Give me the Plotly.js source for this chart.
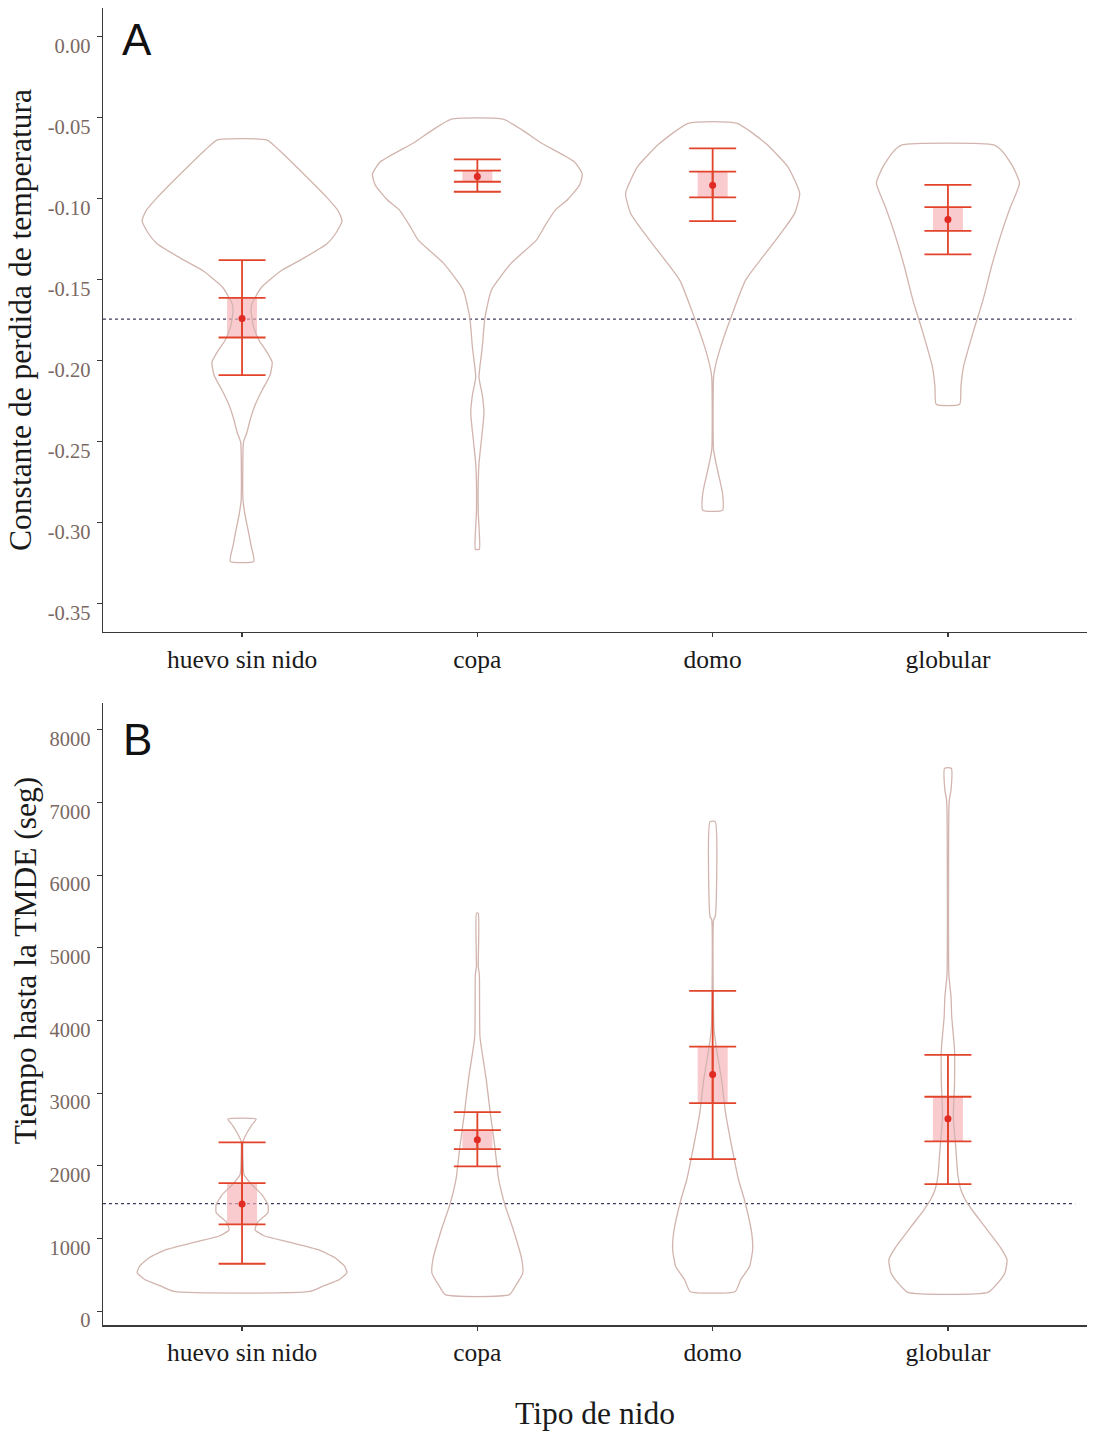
<!DOCTYPE html>
<html>
<head>
<meta charset="utf-8">
<script src="https://cdn.plot.ly/plotly-3.0.1.min.js"></script>
<style>
html,body{margin:0;padding:0;background:#fff;}
#chart{width:1095px;height:1431px;}
</style>
</head>
<body>
<div id="chart"></div>
<script>
// ---------- categories ----------
const categories = ['huevo sin nido', 'copa', 'domo', 'globular'];

// ---------- Panel A: Constante de perdida de temperatura ----------
const meanA    = [-0.1740, -0.0863, -0.0917, -0.1129];
const outerHiA = [-0.1380, -0.0758, -0.0690, -0.0915];
const innerHiA = [-0.1613, -0.0828, -0.0834, -0.1053];
const innerLoA = [-0.1858, -0.0896, -0.0993, -0.1199];
const outerLoA = [-0.2090, -0.0958, -0.1139, -0.1345];
const refA = -0.1745;
const yTicksA = [0, -0.05, -0.10, -0.15, -0.20, -0.25, -0.30, -0.35];
const yTickTextA = ['0.00', '-0.05', '-0.10', '-0.15', '-0.20', '-0.25', '-0.30', '-0.35'];

// violin density profiles (value, half-width in category units)
const vA0_y = [-0.0639,-0.0700,-0.0808,-0.0994,-0.1075,-0.1137,-0.1211,-0.1279,-0.1366,-0.1446,-0.1551,-0.1650,-0.1689,-0.1782,-0.1875,-0.1949,-0.2011,-0.2091,-0.2184,-0.2277,-0.2369,-0.2443,-0.2505,-0.2678,-0.2864,-0.2957,-0.3050,-0.3142,-0.3241];
const vA0_w = [0.106,0.157,0.234,0.361,0.408,0.425,0.400,0.361,0.264,0.166,0.081,0.042,0.038,0.047,0.072,0.106,0.128,0.119,0.085,0.055,0.034,0.021,0.006,0.003,0.004,0.013,0.026,0.038,0.050];

const vA1_y = [-0.0510,-0.0577,-0.0657,-0.0773,-0.0849,-0.0917,-0.1009,-0.1071,-0.1164,-0.1257,-0.1399,-0.1565,-0.1738,-0.1918,-0.2103,-0.2214,-0.2326,-0.2493,-0.2635,-0.2740,-0.2944,-0.3067,-0.3166];
const vA1_w = [0.110,0.191,0.272,0.412,0.446,0.434,0.382,0.331,0.289,0.251,0.144,0.060,0.032,0.021,0.007,0.021,0.028,0.017,0.007,0.004,0.004,0.0085,0.0085];

const vA2_y = [-0.0535,-0.0659,-0.0803,-0.0968,-0.1090,-0.1195,-0.1298,-0.1504,-0.1738,-0.1916,-0.2039,-0.2101,-0.2554,-0.2678,-0.2820,-0.2925];
const vA2_w = [0.104,0.225,0.319,0.370,0.349,0.300,0.246,0.140,0.077,0.034,0.011,0.004,0.004,0.021,0.042,0.042];

const vA3_y = [-0.0669,-0.0713,-0.0803,-0.0906,-0.1051,-0.1215,-0.1421,-0.1627,-0.1831,-0.2039,-0.2163,-0.2270];
const vA3_w = [0.195,0.234,0.276,0.304,0.266,0.227,0.185,0.149,0.106,0.066,0.055,0.050];

// ---------- Panel B: Tiempo hasta la TMDE (seg) ----------
const meanB    = [1475, 2359, 3257, 2648];
const outerHiB = [2322, 2740, 4409, 3528];
const innerHiB = [1763, 2492, 3642, 2951];
const innerLoB = [1194, 2231, 2864, 2336];
const outerLoB = [653, 1992, 2094, 1750];
const refB = 1479;
const yTicksB = [0, 1000, 2000, 3000, 4000, 5000, 6000, 7000, 8000];

const vB0_y = [2644,2565,2455,2336,2084,1878,1740,1602,1465,1355,1231,1121,1038,956,846,736,626,530,433,351,272];
const vB0_w = [0.060,0.042,0.021,0.004,0.004,0.0085,0.042,0.085,0.110,0.110,0.068,0.055,0.094,0.191,0.323,0.395,0.434,0.446,0.412,0.348,0.289];

const vB1_y = [5477,4743,4629,3780,3459,3184,2726,2267,1809,1465,1121,708,525,341,227];
const vB1_w = [0.004,0.004,0.0085,0.011,0.025,0.038,0.055,0.074,0.091,0.117,0.153,0.189,0.193,0.161,0.136];

const vB2_y = [6737,5431,5385,3872,3597,3184,2726,2267,1809,1534,1076,846,616,433,272];
const vB2_w = [0.011,0.011,0.004,0.006,0.017,0.038,0.055,0.081,0.110,0.135,0.166,0.170,0.157,0.119,0.096];

const vB3_y = [7472,7173,7036,6898,4629,4330,4055,3597,3139,2679,2221,1878,1671,1534,1396,1166,891,708,525,388,259];
const vB3_w = [0.014,0.013,0.006,0.004,0.004,0.013,0.016,0.028,0.028,0.023,0.034,0.042,0.055,0.074,0.102,0.156,0.220,0.251,0.242,0.212,0.170];

// ---------- styles ----------
const VIOLIN_COLOR = '#d2b4ae';
const ERR_COLOR = '#e2442b';
const MEAN_COLOR = '#e02a24';
const BOX_COLOR = 'rgba(246,175,180,0.65)';
const SERIF = 'Liberation Serif, Times New Roman, serif';
const idx = categories.map((c, i) => i);

function violinTrace(center, ys, ws, xa, ya) {
  const xs = [], yy = [];
  for (let i = 0; i < ys.length; i++) { xs.push(center + ws[i]); yy.push(ys[i]); }
  for (let i = ys.length - 1; i >= 0; i--) { xs.push(center - ws[i]); yy.push(ys[i]); }
  xs.push(xs[0]); yy.push(yy[0]);
  return {type: 'scatter', mode: 'lines', x: xs, y: yy, xaxis: xa, yaxis: ya,
    line: {color: VIOLIN_COLOR, width: 1.3, shape: 'spline', smoothing: 0.5},
    hoverinfo: 'skip', showlegend: false};
}

function boxTrace(lo, hi, xa, ya) {
  return {type: 'bar', x: idx, base: lo, y: hi.map((h, i) => h - lo[i]), width: 0.1275,
    xaxis: xa, yaxis: ya, marker: {color: BOX_COLOR, line: {width: 0}}, showlegend: false, hoverinfo: 'skip'};
}

function errTrace(mean, hi, lo, xa, ya, showMarker) {
  return {type: 'scatter', mode: 'markers', x: idx, y: mean, xaxis: xa, yaxis: ya,
    marker: {color: MEAN_COLOR, size: showMarker ? 7 : 0.1, opacity: showMarker ? 1 : 0},
    error_y: {type: 'data', symmetric: false, array: hi.map((h, i) => h - mean[i]),
      arrayminus: mean.map((m, i) => m - lo[i]), color: ERR_COLOR, thickness: 1.8, width: 23.5},
    showlegend: false, hoverinfo: 'skip'};
}

const data = [
  boxTrace(innerLoA, innerHiA, 'x', 'y'),
  boxTrace(innerLoB, innerHiB, 'x2', 'y2'),
  violinTrace(0, vA0_y, vA0_w, 'x', 'y'),
  violinTrace(1, vA1_y, vA1_w, 'x', 'y'),
  violinTrace(2, vA2_y, vA2_w, 'x', 'y'),
  violinTrace(3, vA3_y, vA3_w, 'x', 'y'),
  violinTrace(0, vB0_y, vB0_w, 'x2', 'y2'),
  violinTrace(1, vB1_y, vB1_w, 'x2', 'y2'),
  violinTrace(2, vB2_y, vB2_w, 'x2', 'y2'),
  violinTrace(3, vB3_y, vB3_w, 'x2', 'y2'),
  errTrace(meanA, outerHiA, outerLoA, 'x', 'y', false),
  errTrace(meanA, innerHiA, innerLoA, 'x', 'y', true),
  errTrace(meanB, outerHiB, outerLoB, 'x2', 'y2', false),
  errTrace(meanB, innerHiB, innerLoB, 'x2', 'y2', true)
];

const axisLine = {showline: true, linecolor: '#3a3a3a', linewidth: 1.5, showgrid: false, zeroline: false,
  ticks: 'outside', tickcolor: '#3a3a3a', tickwidth: 1.2};

const xCommon = Object.assign({}, axisLine, {
  range: [-0.591, 3.591], tickmode: 'array', tickvals: idx, ticktext: categories, ticklen: 4,
  tickfont: {family: SERIF, size: 25.5, color: '#1a1a1a'}, ticklabelstandoff: 0, fixedrange: true
});

const yTickFont = {family: SERIF, size: 20.5, color: '#7a6862'};
const titleFont = {family: SERIF, size: 31.5, color: '#1a1a1a'};

const layout = {
  width: 1095, height: 1431,
  margin: {l: 103, r: 8, t: 8, b: 106},
  paper_bgcolor: '#ffffff', plot_bgcolor: '#ffffff',
  showlegend: false,
  barmode: 'overlay',
  xaxis: Object.assign({}, xCommon, {anchor: 'y'}),
  xaxis2: Object.assign({}, xCommon, {anchor: 'y2',
    title: {text: 'Tipo de nido', font: titleFont, standoff: 36}}),
  yaxis: Object.assign({}, axisLine, {
    domain: [0.5262, 1], range: [-0.3677, 0.0177], tickmode: 'array', tickvals: yTicksA, ticktext: yTickTextA,
    ticklen: 5, tickfont: yTickFont, ticklabelshift: 9, ticklabelstandoff: 2, anchor: 'x',
    title: {text: 'Constante de perdida de temperatura', font: titleFont, standoff: 6}
  }),
  yaxis2: Object.assign({}, axisLine, {
    domain: [0, 0.4723], range: [-190, 8370], tickmode: 'array', tickvals: yTicksB,
    ticktext: yTicksB.map(String),
    ticklen: 5, tickfont: yTickFont, ticklabelshift: 9, ticklabelstandoff: 2, anchor: 'x2'
  }),
  shapes: [
    {type: 'line', xref: 'x domain', yref: 'y', x0: 0, x1: 0.988, y0: refA, y1: refA,
      line: {color: '#3e3e60', width: 1.3, dash: 'dot'}, layer: 'below'},
    {type: 'line', xref: 'x2 domain', yref: 'y2', x0: 0, x1: 0.988, y0: refB, y1: refB,
      line: {color: '#3e3e60', width: 1.3, dash: 'dot'}, layer: 'below'}
  ],
  annotations: [
    {text: 'A', xref: 'x domain', yref: 'y domain', x: 0.0346, y: 0.950, xanchor: 'center', yanchor: 'middle',
      showarrow: false, font: {family: 'Liberation Sans, Arial, sans-serif', size: 44, color: '#111'}},
    {text: 'B', xref: 'x2 domain', yref: 'y2 domain', x: 0.0346, y: 0.9405, xanchor: 'center', yanchor: 'middle',
      showarrow: false, font: {family: 'Liberation Sans, Arial, sans-serif', size: 44, color: '#111'}},
    {text: 'Tiempo hasta la TMDE (seg)', xref: 'paper', yref: 'paper', x: -0.0793, y: 0.277,
      xanchor: 'center', yanchor: 'middle', textangle: -90, showarrow: false, font: titleFont}
  ]
};

Plotly.newPlot('chart', data, layout, {staticPlot: true, displayModeBar: false});
</script>
</body>
</html>
